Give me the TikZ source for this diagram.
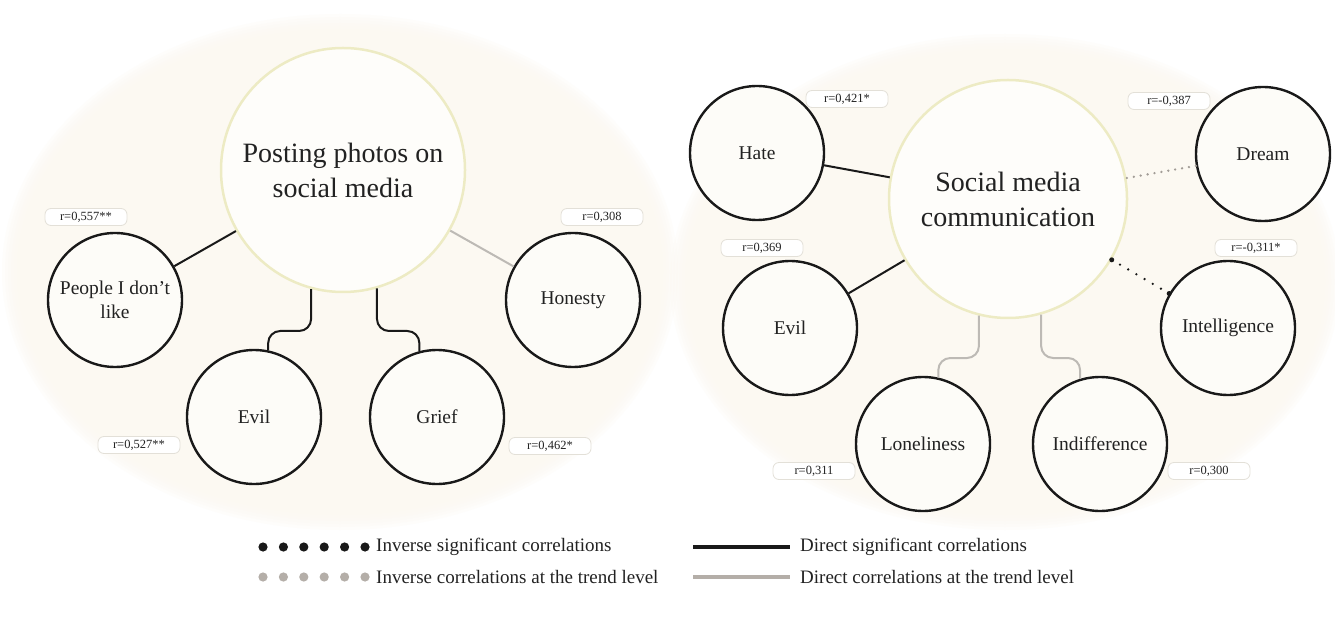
\documentclass[tikz,border=0pt]{standalone}
\usepackage{fontspec}
\setmainfont{Liberation Serif}
\usetikzlibrary{calc}

\definecolor{cream}{HTML}{FCF9F2}
\definecolor{hubring}{HTML}{EDEBC4}
\definecolor{ink}{HTML}{222222}
\definecolor{trend}{HTML}{BDBAB5}
\definecolor{taupe}{HTML}{B4AEA8}
\definecolor{tagline}{HTML}{E3E0D8}

\begin{document}
\begin{tikzpicture}[x=1pt,y=-1pt,
  hub/.style={circle, draw=hubring, line width=2.5pt, fill=white!60!cream,
    inner sep=0pt, align=center, text=ink,
    font=\fontsize{28}{35}\selectfont},
  leaf/.style={circle, draw=black!90, line width=2.4pt, fill=white!45!cream,
    minimum size=134pt, inner sep=0pt, align=center, text=ink,
    font=\fontsize{19.5}{24.5}\selectfont},
  tag/.style={rounded corners=6pt, draw=tagline, line width=0.8pt, fill=white,
    minimum width=82pt, minimum height=17pt, inner sep=0pt, text=ink,
    font=\fontsize{12.5}{13}\selectfont},
  sigline/.style={draw=black!90, line width=2pt},
  trendline/.style={draw=trend, line width=2pt},
  sigdots/.style={draw=black!90, line width=2.6pt, line cap=round,
    dash pattern=on 0pt off 9.5pt},
  trenddots/.style={draw=taupe!90!black, line width=2.6pt, line cap=round,
    dash pattern=on 0pt off 7pt},
  enddot/.style={circle, fill=black!90, inner sep=0pt, minimum size=5pt},
  legtext/.style={anchor=west, inner sep=0pt, text=ink,
    font=\fontsize{19}{22}\selectfont},
]

% canvas
\useasboundingbox (0,0) rectangle (1335,617);
\fill[white] (0,0) rectangle (1335,617);

% soft cream backdrops behind the two clusters
\foreach \k in {0,...,7}{
  \fill[cream, opacity=0.3] (340,272) ellipse [x radius={338pt-\k*3pt}, y radius={258pt-\k*3pt}];
  \fill[cream, opacity=0.3] (1005,282) ellipse [x radius={335pt-\k*3pt}, y radius={248pt-\k*3pt}];
}

% ---------------- left cluster ----------------
\node[hub, minimum size=244pt] (post) at (343,170) {Posting photos on\\social media};
\node[leaf] (people)  at (115,300) {People I don’t\\like};
\node[leaf] (evilA)   at (254,417) {Evil};
\node[leaf] (grief)   at (437,417) {Grief};
\node[leaf] (honesty) at (573,300) {Honesty};

\coordinate (midA) at (0,331);
\draw[sigline] (people) -- (post);
\draw[trendline] (honesty) -- (post);
\draw[sigline, rounded corners=12pt]
  (post.255) -- (post.255 |- midA) -- (evilA.78 |- midA) -- (evilA.78);
\draw[sigline, rounded corners=12pt]
  (post.286) -- (post.286 |- midA) -- (grief.105 |- midA) -- (grief.105);

\node[tag] (tPeople)  at (86,217)  {r=0,557**};
\node[tag] (tHonesty) at (602,217) {r=0,308};
\node[tag] (tEvilA)   at (139,445) {r=0,527**};
\node[tag] (tGrief)   at (550,446) {r=0,462*};

% ---------------- right cluster ----------------
\node[hub, minimum size=238pt] (smc) at (1008,199) {Social media\\communication};
\node[leaf] (hate)   at (757,153)  {Hate};
\node[leaf] (evilB)  at (790,328)  {Evil};
\node[leaf] (dream)  at (1263,154) {Dream};
\node[leaf] (intel)  at (1228,328) {Intelligence};
\node[leaf] (lonely) at (923,444)  {Loneliness};
\node[leaf] (indiff) at (1100,444) {Indifference};

\coordinate (midB) at (0,358);
\draw[sigline] (hate) -- (smc);
\draw[sigline] (evilB) -- (smc);
\draw[trenddots] (dream) -- (smc);
\draw[sigdots] (intel) -- (smc)
  node[enddot, pos=0] (iEnd) {} node[enddot, pos=1] (sEnd) {};
\draw[trendline, rounded corners=12pt]
  (smc.256) -- (smc.256 |- midB) -- (lonely.77 |- midB) -- (lonely.77);
\draw[trendline, rounded corners=12pt]
  (smc.286) -- (smc.286 |- midB) -- (indiff.107 |- midB) -- (indiff.107);

\node[tag] (tHate)   at (847,99)   {r=0,421*};
\node[tag] (tEvilB)  at (762,248)  {r=0,369};
\node[tag] (tDream)  at (1169,101) {r=-0,387};
\node[tag] (tIntel)  at (1256,248) {r=-0,311*};
\node[tag] (tLonely) at (814,471)  {r=0,311};
\node[tag] (tIndiff) at (1209,471) {r=0,300};

% ---------------- legend ----------------
\foreach \i in {0,...,5}{
  \fill[black!90] ({263+20.4*\i},547) circle [radius=4.6pt];
  \fill[taupe]    ({263+20.4*\i},577) circle [radius=4.6pt];
}
\node[legtext] (legA) at (376,547) {Inverse significant correlations};
\node[legtext] (legB) at (376,577) {Inverse correlations at the trend level};
\draw[black!90, line width=4pt] (693,547) -- (790,547);
\draw[taupe, line width=4pt] (693,577) -- (790,577);
\node[legtext] (legC) at (800,547) {Direct significant correlations};
\node[legtext] (legD) at (800,577) {Direct correlations at the trend level};

\end{tikzpicture}
\end{document}
